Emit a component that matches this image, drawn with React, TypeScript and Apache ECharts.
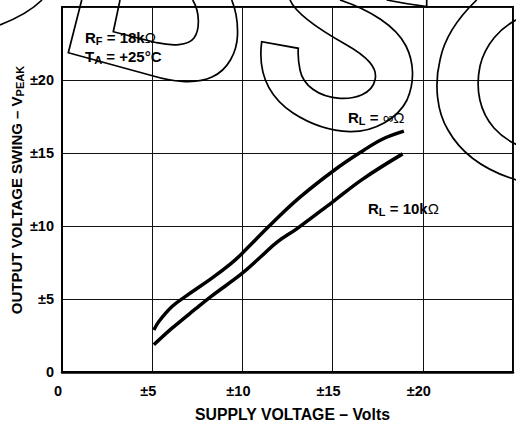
import React, { useEffect, useRef } from "react";
import * as echarts from "echarts";

// ---- data ----
const supplyInf = [5.09, 5.37, 6.1, 6.83, 8.29, 9.38, 9.98, 11.57, 13.21, 15.2, 16.69, 17.78, 18.95];
const swingInf = [2.88, 3.46, 4.48, 5.16, 6.41, 7.44, 8.12, 10.1, 11.99, 13.92, 15.16, 15.96, 16.5];
const supply10k = [5.09, 6.1, 7.38, 8.29, 9.98, 11.02, 11.94, 13.03, 14.99, 16.69, 18.88];
const swing10k = [1.86, 3.0, 4.3, 5.2, 6.75, 7.89, 8.91, 9.82, 11.64, 13.23, 14.94];
const axisMin = 0;
const axisMax = 25;
const axisStep = 5;
const xTitle = "SUPPLY VOLTAGE – Volts";
const yTitleMain = "OUTPUT VOLTAGE SWING – V";
const yTitleSub = "PEAK";

// ---- watermark outlines (decorative, pixel space) ----
const outlines: Record<string, string> = {
  wmArc: "M 0 25 Q 28 14 42 0",
  wmB1: "M 81.7 0 L 68.3 52.7 L 153.3 76 C 170 81 195 85 212 77 C 228 70 237 52 237.5 35 C 238 20 235 8 231.7 0",
  wmB2: "M 120 0 L 113.3 31.7 L 156.7 42.7 C 172 46 188 46 194 38 C 200 30 200 12 192.7 0",
  wmS: "M 290 0 C 296 14 320 30 345 44 C 368 57 378 68 375 80 C 372 94 355 99 340 98.3 C 318 97 303 85 300 70 C 298 60 298 52 298.3 48.3 L 261.7 41.7 C 258 70 266 95 293 113 C 310 124 330 131 350 131.7 C 375 132 398 118 407 100 C 415 82 414 62 406 46 C 396 26 370 10 340 0",
  wmS2: "M 386.7 0 Q 406 4 426.7 6.7 L 426.7 0",
  wmC1: "M 476.7 0 C 460 16 445 35 440 60 C 434 85 437 112 448 130 C 462 155 488 172 520 181",
  wmC2: "M 520 18 C 500 27 485 45 480 66 C 475 90 480 112 494 128 C 502 137 510 142 520 146",
};
let registered = false;
function registerOutlines() {
  if (registered) return;
  registered = true;
  Object.keys(outlines).forEach((k) => {
    echarts.graphic.registerShape(k, echarts.graphic.extendPath(outlines[k], {}));
  });
}

const FONT = "Liberation Sans, Arial, sans-serif";

function pairs(xs: number[], ys: number[]) {
  return xs.map((x, i) => [x, ys[i]]);
}

function annot(x: number, y: number, text: string) {
  return {
    type: "text",
    x,
    y,
    z: 20,
    style: {
      text,
      fill: "#000",
      align: "left",
      verticalAlign: "middle",
      rich: {
        m: { fontFamily: FONT, fontWeight: "bold", fontSize: 15, color: "#000", lineHeight: 16 },
        s: { fontFamily: FONT, fontWeight: "bold", fontSize: 11, color: "#000", padding: [8, 0, 0, 0] },
        o: { fontFamily: FONT, fontWeight: "normal", fontSize: 15, color: "#000", lineHeight: 16 },
      },
    },
  };
}

export default function App() {
  const ref = useRef<HTMLDivElement>(null);
  useEffect(() => {
    if (!ref.current) return;
    registerOutlines();
    const chart = echarts.init(ref.current, undefined, { renderer: "svg" });
    const fmt = (v: number) => (v === axisMax ? "" : v === 0 ? "0" : "±" + v);
    const lineSeries = (name: string, data: number[][]) => ({
      type: "line",
      name,
      data,
      smooth: 0.4,
      showSymbol: false,
      lineStyle: { color: "#000", width: 3.5 },
      z: 5,
    });
    const wm = Object.keys(outlines).map((k) => ({
      type: k,
      x: 0,
      y: 0,
      z: 10,
      style: { fill: "none", stroke: "#000", lineWidth: 1.7 },
    }));
    const labelBase = { fontFamily: FONT, fontWeight: "bold", fontSize: 14.5, color: "#000" };
    chart.setOption({
      animation: false,
      grid: {
        left: 62,
        top: 7,
        width: 456,
        height: 367,
        show: true,
        borderColor: "#000",
        borderWidth: 2,
        containLabel: false,
      },
      xAxis: {
        type: "value",
        min: axisMin,
        max: axisMax,
        interval: axisStep,
        name: xTitle,
        nameLocation: "middle",
        nameGap: 34,
        nameTextStyle: {
          fontFamily: FONT,
          fontWeight: "bold",
          fontSize: 15.8,
          color: "#000",
          padding: [0, 0, 0, 10],
        },
        axisLine: { show: true, onZero: false, lineStyle: { color: "#000", width: 2.5 } },
        axisTick: { show: false },
        splitLine: { show: true, lineStyle: { color: "#111", width: 1 } },
        axisLabel: { ...labelBase, margin: 11, formatter: fmt, padding: [0, 8, 0, 0] },
      },
      yAxis: {
        type: "value",
        min: axisMin,
        max: axisMax,
        interval: axisStep,
        axisLine: { show: true, onZero: false, lineStyle: { color: "#000", width: 2 } },
        axisTick: { show: false },
        splitLine: { show: true, lineStyle: { color: "#111", width: 1 } },
        axisLabel: { ...labelBase, margin: 8, formatter: fmt },
      },
      graphic: [
        ...wm,
        annot(85, 37, "{m|R}{s|F}{m| = 18k}{o|Ω}"),
        annot(85, 56, "{m|T}{s|A}{m| = +25°C}"),
        annot(348, 117, "{m|R}{s|L}{m| = }{o|∞Ω}"),
        annot(368, 208, "{m|R}{s|L}{m| = 10k}{o|Ω}"),
        {
          type: "text",
          x: 16,
          y: 190,
          rotation: Math.PI / 2,
          z: 20,
          style: {
            text: "{m|" + yTitleMain + "}{s|" + yTitleSub + "}",
            align: "center",
            verticalAlign: "middle",
            rich: {
              m: { fontFamily: FONT, fontWeight: "bold", fontSize: 15, color: "#000", lineHeight: 16 },
              s: { fontFamily: FONT, fontWeight: "bold", fontSize: 11, color: "#000", padding: [8, 0, 0, 0] },
            },
          },
        },
      ],
      series: [
        lineSeries("RL = ∞Ω", pairs(supplyInf, swingInf)),
        lineSeries("RL = 10kΩ", pairs(supply10k, swing10k)),
      ],
    });
    return () => chart.dispose();
  }, []);
  return <div ref={ref} style={{ width: 516, height: 427, position: "absolute", left: 0, top: 0 }} />;
}
